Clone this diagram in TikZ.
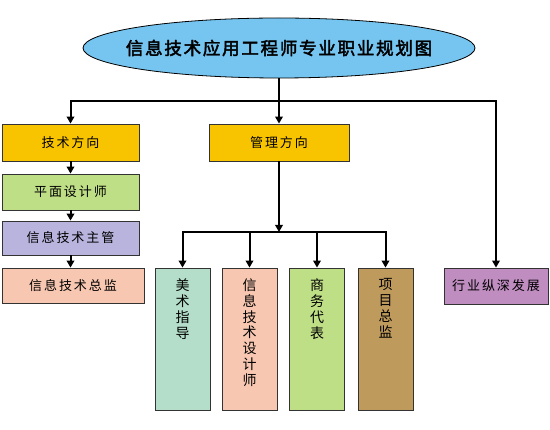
\documentclass[tikz,border=0pt]{standalone}
\usepackage{fontspec}
\newfontfamily\cjk{Noto Sans CJK SC}
\newfontfamily\cjkbold{Noto Sans CJK SC}[FakeBold=2.5]
\usetikzlibrary{shapes.geometric,arrows.meta}
\definecolor{cTitle}{HTML}{75C5F0}
\definecolor{cGold}{HTML}{F8C400}
\definecolor{cGreen}{HTML}{BFDF86}
\definecolor{cLav}{HTML}{B8B4DE}
\definecolor{cSalmon}{HTML}{F7C7B1}
\definecolor{cMint}{HTML}{B4DEC9}
\definecolor{cTan}{HTML}{BE9A5C}
\definecolor{cPurple}{HTML}{C08DC1}
\tikzset{
  hbox/.style={draw=black!80, line width=0.8pt, rectangle, minimum height=36pt, inner sep=0pt,
    font=\cjk\fontsize{13}{15}\selectfont\addfontfeature{LetterSpace=15}},
  vbox/.style={draw=black!80, line width=0.8pt, rectangle, minimum width=55pt, minimum height=142pt, inner sep=0pt},
  vtext/.style={anchor=north, align=center, inner sep=0pt, font=\cjk\fontsize{14}{15.8}\selectfont},
  link/.style={line width=2pt, black},
  arr/.style={link, -{Triangle[width=7.5pt,length=7pt]}}
}
\begin{document}
\begin{tikzpicture}[x=1pt,y=-1pt]
\useasboundingbox (0,0) rectangle (550,430);
\node[ellipse, draw=black, line width=0.8pt, fill=cTitle, minimum width=392pt, minimum height=60pt, inner sep=0pt] (title) at (279,48) {};
\node[inner sep=0pt, font=\cjkbold\fontsize{17.5}{19}\selectfont\addfontfeature{LetterSpace=10}] (titletext) at (title.center) {信息技术应用工程师专业职业规划图};
\node[hbox, fill=cGold, minimum width=137pt, minimum height=37pt] (tech) at (70.5,142.5) {技术方向};
\node[hbox, fill=cGold, minimum width=140pt, minimum height=37pt] (mgmt) at (279,142.5) {管理方向};
\node[hbox, fill=cGreen, minimum width=137pt] (pm) at (70.5,192) {平面设计师};
\node[hbox, fill=cLav, minimum width=137pt, minimum height=34pt] (zg) at (70.5,238) {信息技术主管};
\node[hbox, fill=cSalmon, minimum width=142pt, minimum height=35pt] (zj) at (73,285.5) {信息技术总监};
\node[hbox, fill=cPurple, minimum width=104pt] (hy) at (496,286) {行业纵深发展};
\node[vbox, fill=cMint] (ms) at (182.5,339) {};
\node[vbox, fill=cSalmon] (sj) at (249.5,339) {};
\node[vbox, fill=cGreen] (sw) at (317,339) {};
\node[vbox, fill=cTan] (xm) at (385.5,339) {};
\node[vtext] (mst) at ([yshift=-11pt]ms.north) {美\\术\\指\\导};
\node[vtext] (sjt) at ([yshift=-11pt]sj.north) {信\\息\\技\\术\\设\\计\\师};
\node[vtext] (swt) at ([yshift=-11pt]sw.north) {商\\务\\代\\表};
\node[vtext] (xmt) at ([yshift=-11pt]xm.north) {项\\目\\总\\监};
\coordinate (j1) at (279,101);
\coordinate (j2) at (279,232);
\draw[link] (title.south) -- (j1);
\draw[arr] (j1) -| (tech.north);
\draw[arr] (j1) -- (mgmt.north);
\draw[arr] (j1) -| (hy.north);
\draw[arr] (tech.south) -- (pm.north);
\draw[arr] (pm.south) -- (zg.north);
\draw[arr] (zg.south) -- (zj.north -| zg.south);
\draw[arr] (mgmt.south) -- (j2);
\draw[arr] (j2) -| (ms.north);
\draw[arr] (j2) -| (sj.north);
\draw[arr] (j2) -| (sw.north);
\draw[arr] (j2) -| (xm.north);
\end{tikzpicture}
\end{document}
